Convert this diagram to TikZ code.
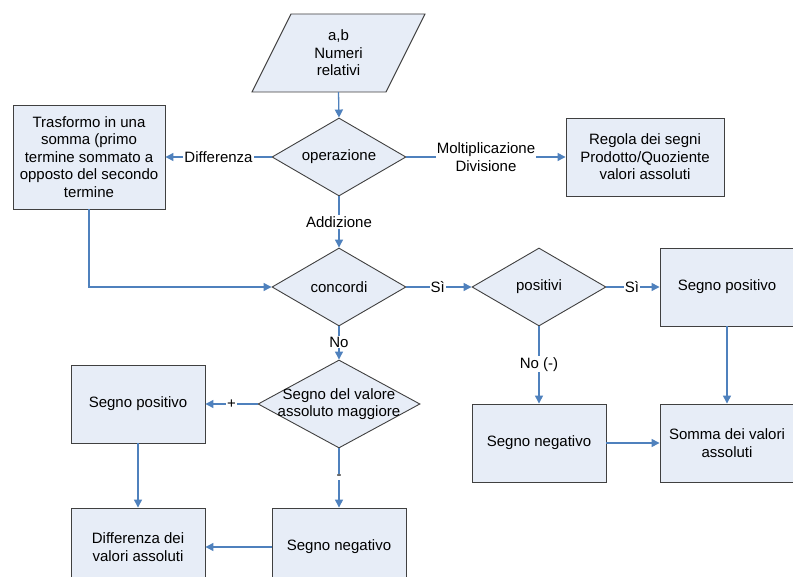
\documentclass[tikz,border=0pt]{standalone}
\usepackage{fontspec}
\setmainfont{Liberation Sans}
\usetikzlibrary{arrows.meta,shapes.geometric}
\definecolor{boxfill}{RGB}{231,237,247}
\definecolor{boxline}{RGB}{64,64,64}
\definecolor{connblue}{RGB}{79,129,189}
\begin{document}
\begin{tikzpicture}[x=1pt,y=-1pt,
  every node/.style={font=\fontsize{15}{17.5}\selectfont},
  boxnode/.style={draw=boxline, fill=boxfill, line width=0.9pt, rectangle, inner sep=2pt, align=center, minimum width=134, minimum height=78},
  decision/.style={draw=boxline, fill=boxfill, line width=0.9pt, diamond, inner sep=0pt, minimum width=134, minimum height=78},
  conn/.style={draw=connblue, line width=1.3pt, -{Triangle[length=8pt,width=8pt]}},
  lbl/.style={fill=white, inner sep=1pt, align=center}]
\useasboundingbox (0,0) rectangle (793,577);
\fill[white] (0,0) rectangle (793,577);
\clip (0,0) rectangle (793,577);

% input parallelogram
\draw[draw=boxline, fill=boxfill, line width=0.9pt] (291,14) -- (425,14) -- (386,92) -- (252,92) -- cycle;
\node[align=center, minimum height=78, inner sep=0pt] (in) at (338.5,53) {a,b\\Numeri\\relativi};

% decisions
\node[decision, label={center:operazione}] (op) at (339,157) {};
\node[decision, label={center:concordi}] (cc) at (339,287) {};
\node[decision, label={center:positivi}] (pv) at (539,287) {};
\node[decision, minimum width=162, minimum height=88, label={[align=center]center:Segno del valore\\assoluto maggiore}] (sv) at (339,404) {};

% boxes
\node[boxnode, minimum width=152, minimum height=104] (tr) at (89,157) {Trasformo in una\\somma (primo\\termine sommato a\\opposto del secondo\\termine};
\node[boxnode, minimum width=158] (rg) at (645,157) {Regola dei segni\\Prodotto/Quoziente\\valori assoluti};
\node[boxnode] (sp1) at (727,287) {Segno positivo};
\node[boxnode] (sm) at (727,443) {Somma dei valori\\assoluti};
\node[boxnode] (sn1) at (539,443) {Segno negativo};
\node[boxnode] (sp2) at (138,404) {Segno positivo};
\node[boxnode] (df) at (138,547) {Differenza dei\\valori assoluti};
\node[boxnode] (sn2) at (339,547) {Segno negativo};

% connectors
\draw[conn] (in.south) -- (op.north);
\draw[conn] (op.west) -- node[lbl, pos=0.5] {Differenza} (tr.east);
\draw[conn] (op.east) -- node[lbl, pos=0.5] {Moltiplicazione\\Divisione} (rg.west);
\draw[conn] (op.south) -- node[lbl, pos=0.5] {Addizione} (cc.north);
\draw[conn] (tr.south) |- (cc.west);
\draw[conn] (cc.east) -- node[lbl, pos=0.48] {Sì} (pv.west);
\draw[conn] (pv.east) -- node[lbl, pos=0.48] {Sì} (sp1.west);
\draw[conn] (pv.south) -- node[lbl, pos=0.49] {No (-)} (sn1.north);
\draw[conn] (sp1.south) -- (sm.north);
\draw[conn] (sn1.east) -- (sm.west);
\draw[conn] (cc.south) -- node[lbl, pos=0.47] {No} (sv.north);
\draw[conn] (sv.west) -- node[lbl, pos=0.5] {+} (sp2.east);
\draw[conn] (sv.south) -- node[lbl, pos=0.48] {-} (sn2.north);
\draw[conn] (sp2.south) -- (df.north);
\draw[conn] (sn2.west) -- (df.east);
\end{tikzpicture}
\end{document}
